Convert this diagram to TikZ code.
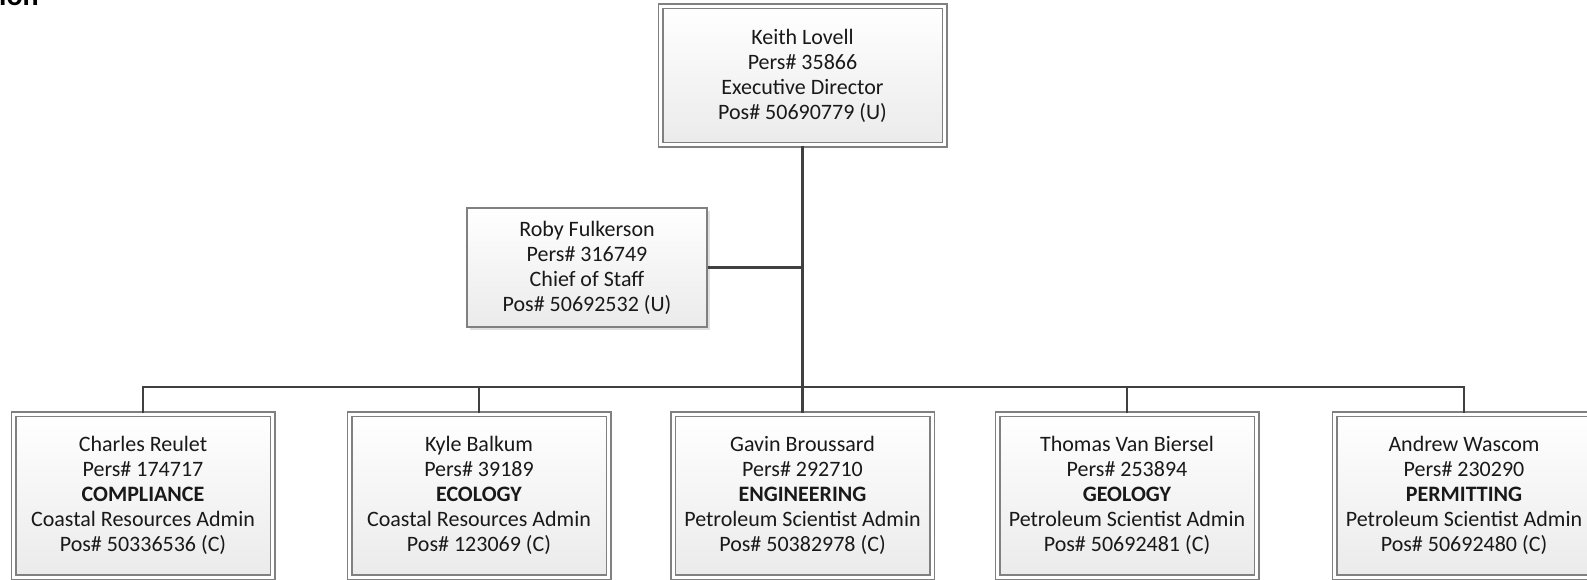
\documentclass[tikz,border=0pt]{standalone}
\usepackage{fontspec}
\setmainfont{Carlito}
\usetikzlibrary{shadows}

\begin{document}
\begin{tikzpicture}[x=1pt,y=-1pt,
    box/.style={draw=black!50,line width=1.5pt,align=center,inner sep=0pt,
      top color=white,bottom color=black!8,text=black!90,
      drop shadow={shadow xshift=3pt,shadow yshift=-3pt,fill=black!12,opacity=1},
      font=\fontsize{22}{25}\selectfont},
    dbox/.style={box,double=white,double distance=3pt,minimum width=259pt,minimum height=163pt},
    link/.style={draw=black!75,line width=2.5pt}]
  \useasboundingbox (0,0) rectangle (1587,580);
  \node[font=\fontsize{30}{32}\selectfont\bfseries,anchor=base west,inner sep=0pt] (title) at (-1,6) {ion};
  \node[dbox,minimum width=284pt,minimum height=138.5pt] (exec) at (802.5,75.75)
    {Keith Lovell\\Pers\# 35866\\Executive Director\\Pos\# 50690779 (U)};
  \node[box,minimum width=240pt,minimum height=119pt] (cos) at (587,267.5)
    {Roby Fulkerson\\Pers\# 316749\\Chief of Staff\\Pos\# 50692532 (U)};
  \node[dbox] (comp) at (143,495.5)
    {Charles Reulet\\Pers\# 174717\\\textbf{COMPLIANCE}\\Coastal Resources Admin\\Pos\# 50336536 (C)};
  \node[dbox] (eco) at (479,495.5)
    {Kyle Balkum\\Pers\# 39189\\\textbf{ECOLOGY}\\Coastal Resources Admin\\Pos\# 123069 (C)};
  \node[dbox] (eng) at (802.5,495.5)
    {Gavin Broussard\\Pers\# 292710\\\textbf{ENGINEERING}\\Petroleum Scientist Admin\\Pos\# 50382978 (C)};
  \node[dbox] (geo) at (1127,495.5)
    {Thomas Van Biersel\\Pers\# 253894\\\textbf{GEOLOGY}\\Petroleum Scientist Admin\\Pos\# 50692481 (C)};
  \node[dbox] (perm) at (1464,495.5)
    {Andrew Wascom\\Pers\# 230290\\\textbf{PERMITTING}\\Petroleum Scientist Admin\\Pos\# 50692480 (C)};
  \coordinate (bus) at (802.5,387);
  \draw[link] (exec.south) -- (eng.north);
  \draw[link] (cos.east) -- (cos.east -| exec.south);
  \foreach \n in {comp,eco,geo,perm}
    \draw[link] (\n.north) |- (bus);
\end{tikzpicture}
\end{document}
